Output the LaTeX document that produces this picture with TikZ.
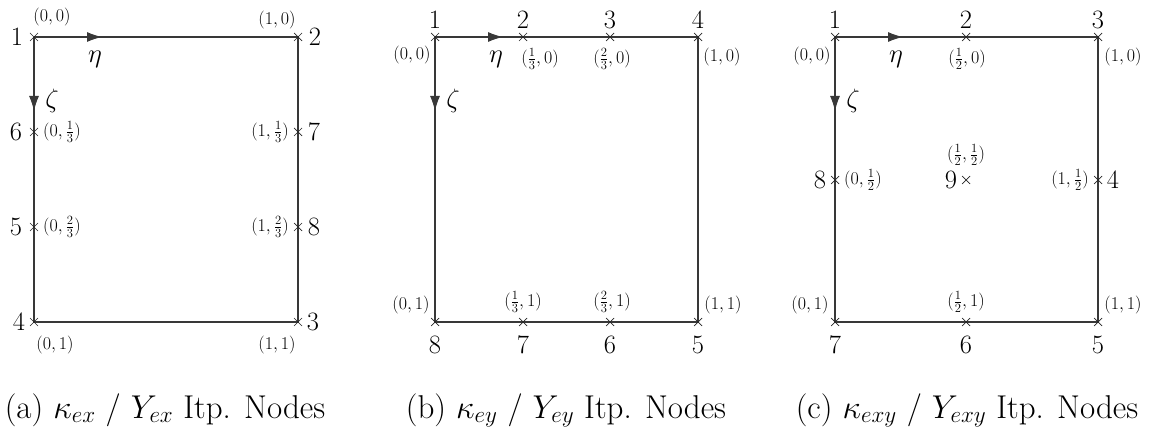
\RequirePackage{fix-cm}
\documentclass[tikz,border=0pt]{standalone}
\usetikzlibrary{arrows.meta,calc}
\begin{document}
\begin{tikzpicture}[x=1pt,y=-1pt,
  edge/.style={draw=black!78,line width=1.1pt},
  axisarrow/.style={draw=black!78,line width=1.1pt,-{Latex[length=15pt,width=10pt]}},
  num/.style={font=\fontsize{26.5}{32}\selectfont,inner sep=0pt},
  lab/.style={font=\fontsize{18}{22}\selectfont,inner sep=0pt},
  captext/.style={font=\fontsize{33}{40}\selectfont,inner sep=0pt,anchor=base},
  xm/.pic={\draw[line width=0.7pt,black!85] (-4,-4)--(4,4) (-4,4)--(4,-4);}]
\useasboundingbox (0,0) rectangle (1150,435);

% ---------------- panel (a) ----------------
\coordinate (a1) at (34,37);
\coordinate (a2) at (298,37);
\coordinate (a3) at (298,322);
\coordinate (a4) at (34,322);
\coordinate (a5) at (34,227);
\coordinate (a6) at (34,132);
\coordinate (a7) at (298,132);
\coordinate (a8) at (298,227);
\path[edge] (a1) -- (a2) -- (a7) -- (a8) -- (a3) -- (a4) -- (a5) -- (a6) -- (a1);
\coordinate (aeta) at ($(a1)+(68,0)$);
\coordinate (azeta) at ($(a1)+(0,74)$);
\draw[axisarrow] (a1) -- (aeta);
\draw[axisarrow] (a1) -- (azeta);
\foreach \p in {a1,a2,a3,a4,a5,a6,a7,a8} \pic at (\p) {xm};
\node[num] (an1) at ($(a1)+(-17,0)$) {1};
\node[num] (an2) at ($(a2)+(17,0)$) {2};
\node[num] (an3) at ($(a3)+(15,0)$) {3};
\node[num] (an4) at ($(a4)+(-15,0)$) {4};
\node[num] (an5) at ($(a5)+(-18,0)$) {5};
\node[num] (an6) at ($(a6)+(-18,0)$) {6};
\node[num] (an7) at ($(a7)+(16,0)$) {7};
\node[num] (an8) at ($(a8)+(16,0)$) {8};
\node[lab] (al1) at ($(a1)+(18,-20)$) {$(0,0)$};
\node[lab] (al2) at ($(a2)+(-21,-17)$) {$(1,0)$};
\node[lab] (al3) at ($(a3)+(-21,23)$) {$(1,1)$};
\node[lab] (al4) at ($(a4)+(21,23)$) {$(0,1)$};
\node[lab,anchor=west] (al5) at ($(a5)+(9,0)$) {$(0,\frac{2}{3})$};
\node[lab,anchor=west] (al6) at ($(a6)+(9,0)$) {$(0,\frac{1}{3})$};
\node[lab,anchor=east] (al7) at ($(a7)+(-9,0)$) {$(1,\frac{1}{3})$};
\node[lab,anchor=east] (al8) at ($(a8)+(-9,0)$) {$(1,\frac{2}{3})$};
\node[num] (aetal) at ($(a1)+(61,22)$) {$\eta$};
\node[num] (azetal) at ($(a1)+(18,64)$) {$\zeta$};
\node[captext] (capa) at (165,418) {(a) $\kappa_{ex}$ / $Y_{ex}$ Itp. Nodes};

% ---------------- panel (b) ----------------
\coordinate (b1) at (435,37);
\coordinate (b2) at (523,37);
\coordinate (b3) at (610,37);
\coordinate (b4) at (698,37);
\coordinate (b5) at (698,322);
\coordinate (b6) at (610,322);
\coordinate (b7) at (523,322);
\coordinate (b8) at (435,322);
\path[edge] (b1) -- (b2) -- (b3) -- (b4) -- (b5) -- (b6) -- (b7) -- (b8) -- (b1);
\coordinate (beta) at ($(b1)+(68,0)$);
\coordinate (bzeta) at ($(b1)+(0,74)$);
\draw[axisarrow] (b1) -- (beta);
\draw[axisarrow] (b1) -- (bzeta);
\foreach \p in {b1,b2,b3,b4,b5,b6,b7,b8} \pic at (\p) {xm};
\node[num] (bn1) at ($(b1)+(0,-17)$) {1};
\node[num] (bn2) at ($(b2)+(0,-17)$) {2};
\node[num] (bn3) at ($(b3)+(0,-17)$) {3};
\node[num] (bn4) at ($(b4)+(0,-17)$) {4};
\node[num] (bn5) at ($(b5)+(0,23)$) {5};
\node[num] (bn6) at ($(b6)+(0,23)$) {6};
\node[num] (bn7) at ($(b7)+(0,23)$) {7};
\node[num] (bn8) at ($(b8)+(0,23)$) {8};
\node[lab] (bl1) at ($(b1)+(-23,18)$) {$(0,0)$};
\node[lab] (bl2) at ($(b2)+(17,22)$) {$(\frac{1}{3},0)$};
\node[lab] (bl3) at ($(b3)+(2,22)$) {$(\frac{2}{3},0)$};
\node[lab] (bl4) at ($(b4)+(24,20)$) {$(1,0)$};
\node[lab] (bl5) at ($(b5)+(25,-17)$) {$(1,1)$};
\node[lab] (bl6) at ($(b6)+(2,-20)$) {$(\frac{2}{3},1)$};
\node[lab] (bl7) at ($(b7)+(0,-20)$) {$(\frac{1}{3},1)$};
\node[lab] (bl8) at ($(b8)+(-24,-17)$) {$(0,1)$};
\node[num] (betal) at ($(b1)+(61,22)$) {$\eta$};
\node[num] (bzetal) at ($(b1)+(18,64)$) {$\zeta$};
\node[captext] (capb) at (566,418) {(b) $\kappa_{ey}$ / $Y_{ey}$ Itp. Nodes};

% ---------------- panel (c) ----------------
\coordinate (c1) at (835,37);
\coordinate (c2) at (966,37);
\coordinate (c3) at (1098,37);
\coordinate (c4) at (1098,180);
\coordinate (c5) at (1098,322);
\coordinate (c6) at (966,322);
\coordinate (c7) at (835,322);
\coordinate (c8) at (835,180);
\coordinate (c9) at (966,180);
\path[edge] (c1) -- (c2) -- (c3) -- (c4) -- (c5) -- (c6) -- (c7) -- (c8) -- (c1);
\coordinate (ceta) at ($(c1)+(68,0)$);
\coordinate (czeta) at ($(c1)+(0,74)$);
\draw[axisarrow] (c1) -- (ceta);
\draw[axisarrow] (c1) -- (czeta);
\foreach \p in {c1,c2,c3,c4,c5,c6,c7,c8,c9} \pic at (\p) {xm};
\node[num] (cn1) at ($(c1)+(0,-17)$) {1};
\node[num] (cn2) at ($(c2)+(0,-17)$) {2};
\node[num] (cn3) at ($(c3)+(0,-17)$) {3};
\node[num] (cn4) at ($(c4)+(15,0)$) {4};
\node[num] (cn5) at ($(c5)+(0,23)$) {5};
\node[num] (cn6) at ($(c6)+(0,23)$) {6};
\node[num] (cn7) at ($(c7)+(0,23)$) {7};
\node[num] (cn8) at ($(c8)+(-15,0)$) {8};
\node[num] (cn9) at ($(c9)+(-15,0)$) {9};
\node[lab] (cl1) at ($(c1)+(-23,19)$) {$(0,0)$};
\node[lab] (cl2) at ($(c2)+(1,22)$) {$(\frac{1}{2},0)$};
\node[lab] (cl3) at ($(c3)+(25,20)$) {$(1,0)$};
\node[lab,anchor=east] (cl4) at ($(c4)+(-9,0)$) {$(1,\frac{1}{2})$};
\node[lab] (cl5) at ($(c5)+(25,-17)$) {$(1,1)$};
\node[lab] (cl6) at ($(c6)+(0,-20)$) {$(\frac{1}{2},1)$};
\node[lab] (cl7) at ($(c7)+(-25,-17)$) {$(0,1)$};
\node[lab,anchor=west] (cl8) at ($(c8)+(9,0)$) {$(0,\frac{1}{2})$};
\node[lab] (cl9) at ($(c9)+(0,-25)$) {$(\frac{1}{2},\frac{1}{2})$};
\node[num] (cetal) at ($(c1)+(61,22)$) {$\eta$};
\node[num] (czetal) at ($(c1)+(18,64)$) {$\zeta$};
\node[captext] (capc) at (967,418) {(c) $\kappa_{exy}$ / $Y_{exy}$ Itp. Nodes};
\end{tikzpicture}
\end{document}
